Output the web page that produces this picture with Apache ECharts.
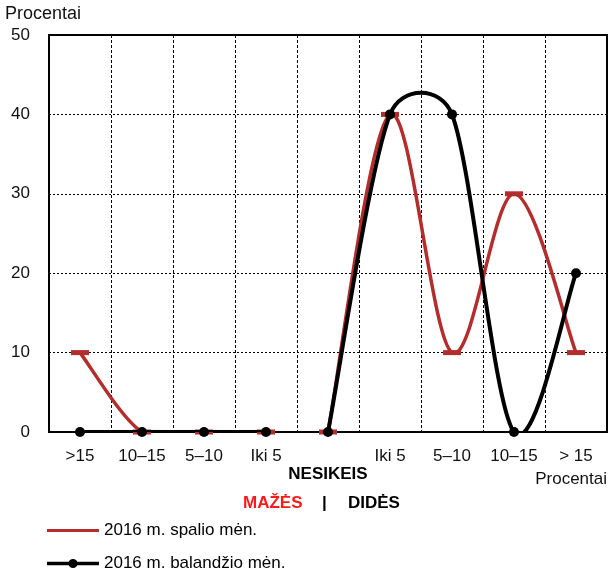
<!DOCTYPE html>
<html>
<head>
<meta charset="utf-8">
<script src="https://cdn.jsdelivr.net/npm/echarts@6/dist/echarts.min.js"></script>
<style>
html,body{margin:0;padding:0;background:#fff;}
#chart{width:610px;height:571px;}
</style>
</head>
<body>
<div id="chart"></div>
<script>
var categories = ['>15', '10–15', '5–10', 'Iki 5', 'NESIKEIS', 'Iki 5', '5–10', '10–15', '> 15'];
var octName = '2016 m. spalio mėn.';
var aprName = '2016 m. balandžio mėn.';
var octValues = [10, 0, 0, 0, 0, 40, 10, 30, 10];
var aprValues = [0, 0, 0, 0, 0, 40, 40, 0, 20];
var yTicks = [0, 10, 20, 30, 40, 50];
var breakAfter = 3; // the line is drawn in two pieces: indices 0..3 and 4..8

var FONT = '"Liberation Sans", Arial, sans-serif';
var RED = '#b22d2b';

var chart = echarts.init(document.getElementById('chart'), null, {renderer: 'canvas'});

function sameGroup(a, b) {
  return (a <= breakAfter) === (b <= breakAfter);
}

// Spreadsheet-style smoothed segment from point i to point i+1 (pixel positions from the axes)
function makeRenderItem(values, color, width) {
  return function (params, api) {
    var i = params.dataIndex;
    var n = values.length;
    if (i >= n - 1 || !sameGroup(i, i + 1)) return null;
    function pt(k) { return api.coord([k, values[k]]); }
    var p1 = pt(i), p2 = pt(i + 1);
    var p0 = (i - 1 >= 0 && sameGroup(i - 1, i)) ? pt(i - 1) : p1;
    var p3 = (i + 2 < n && sameGroup(i + 2, i + 1)) ? pt(i + 2) : p2;
    function dist(a, b) { return Math.sqrt((a[0] - b[0]) * (a[0] - b[0]) + (a[1] - b[1]) * (a[1] - b[1])); }
    var d12 = dist(p1, p2), d02 = dist(p0, p2), d13 = dist(p1, p3);
    var f0 = d02 > 0 ? Math.min(1 / 6, d12 / (2 * d02)) : 0;
    var f1 = d13 > 0 ? Math.min(1 / 6, d12 / (2 * d13)) : 0;
    var c1 = [p1[0] + f0 * (p2[0] - p0[0]), p1[1] + f0 * (p2[1] - p0[1])];
    var c2 = [p2[0] - f1 * (p3[0] - p1[0]), p2[1] - f1 * (p3[1] - p1[1])];
    return {
      type: 'bezierCurve',
      shape: {x1: p1[0], y1: p1[1], cpx1: c1[0], cpy1: c1[1], cpx2: c2[0], cpy2: c2[1], x2: p2[0], y2: p2[1]},
      style: {stroke: color, lineWidth: width, fill: null, lineCap: 'round'}
    };
  };
}

function curveSeries(name, values, color, width, z) {
  return {
    name: name,
    type: 'custom',
    coordinateSystem: 'cartesian2d',
    data: values.map(function (v, i) { return [i, v]; }),
    encode: {x: 0, y: 1},
    clip: true,
    z: z,
    silent: true,
    renderItem: makeRenderItem(values, color, width),
    animation: false
  };
}

function markerSeries(name, values, color, symbol, size, z) {
  return {
    name: name,
    type: 'scatter',
    data: values.map(function (v, i) { return [i, v]; }),
    symbol: symbol,
    symbolSize: size,
    z: z,
    itemStyle: {color: color, opacity: 1},
    emphasis: {disabled: true},
    silent: true,
    animation: false
  };
}

var redLegendIcon = 'path://M0,0 L0.01,0 L0,0.01 Z M0,4.5 H54 V7.5 H0 Z M54,12 L53.99,12 L54,11.99 Z';
var blackLegendIcon = 'path://M0,0 L0.01,0 L0,0.01 Z M0,4.2 H54 V7.8 H0 Z M27,1.2 A4.8,4.8 0 1 1 27,10.8 A4.8,4.8 0 1 1 27,1.2 Z M54,12 L53.99,12 L54,11.99 Z';

chart.setOption({
  animation: false,
  backgroundColor: '#fff',
  textStyle: {fontFamily: FONT},
  grid: {
    left: 49, right: 3, top: 35, bottom: 139,
    show: true, borderColor: '#000', borderWidth: 2, backgroundColor: 'transparent',
    containLabel: false
  },
  legend: {
    orient: 'vertical',
    left: 47, top: 522, height: 70,
    padding: 0,
    itemWidth: 52, itemHeight: 12, itemGap: 16,
    textStyle: {fontFamily: FONT, fontSize: 17, color: '#000'},
    data: [
      {name: octName, icon: redLegendIcon, itemStyle: {color: RED}},
      {name: aprName, icon: blackLegendIcon, itemStyle: {color: '#000'}}
    ]
  },
  xAxis: {
    type: 'category',
    data: categories,
    boundaryGap: true,
    axisLine: {show: true, lineStyle: {color: '#000', width: 2}},
    axisTick: {show: false},
    splitLine: {show: true, interval: 0, lineStyle: {color: '#000', width: 1, type: [3, 2]}},
    axisLabel: {
      interval: 0,
      margin: 14,
      color: '#111',
      fontFamily: FONT,
      fontSize: 17,
      lineHeight: 20,
      formatter: function (v, i) { return i === 4 ? '{b|' + v + '}' : v; },
      rich: {
        b: {fontWeight: 'bold', fontSize: 17, color: '#000', fontFamily: FONT, padding: [36, 0, 0, 0], lineHeight: 20}
      }
    }
  },
  yAxis: {
    type: 'value',
    min: yTicks[0], max: yTicks[yTicks.length - 1], interval: 10,
    axisLine: {show: true, lineStyle: {color: '#000', width: 2}},
    axisTick: {show: false},
    splitLine: {show: true, lineStyle: {color: '#000', width: 1, type: [2, 2]}},
    axisLabel: {margin: 19, color: '#111', fontFamily: FONT, fontSize: 17}
  },
  graphic: [
    {type: 'text', left: 5, top: 5, style: {text: 'Procentai', font: '18px ' + FONT, fill: '#111'}},
    {type: 'text', right: 3, top: 471, style: {text: 'Procentai', font: '17px ' + FONT, fill: '#111'}},
    {type: 'text', left: 243, top: 495, style: {text: 'MAŽĖS', font: 'bold 17px ' + FONT, fill: '#ff1a1a'}},
    {type: 'text', left: 322, top: 495, style: {text: '|', font: 'bold 17px ' + FONT, fill: '#000'}},
    {type: 'text', left: 348, top: 495, style: {text: 'DIDĖS', font: 'bold 17px ' + FONT, fill: '#000'}}
  ],
  series: [
    curveSeries(octName, octValues, RED, 3.5, 2),
    markerSeries(octName, octValues, RED, 'rect', [18, 5], 3),
    curveSeries(aprName, aprValues, '#000', 4, 4),
    markerSeries(aprName, aprValues, '#000', 'circle', 10, 5)
  ]
});
</script>
</body>
</html>
